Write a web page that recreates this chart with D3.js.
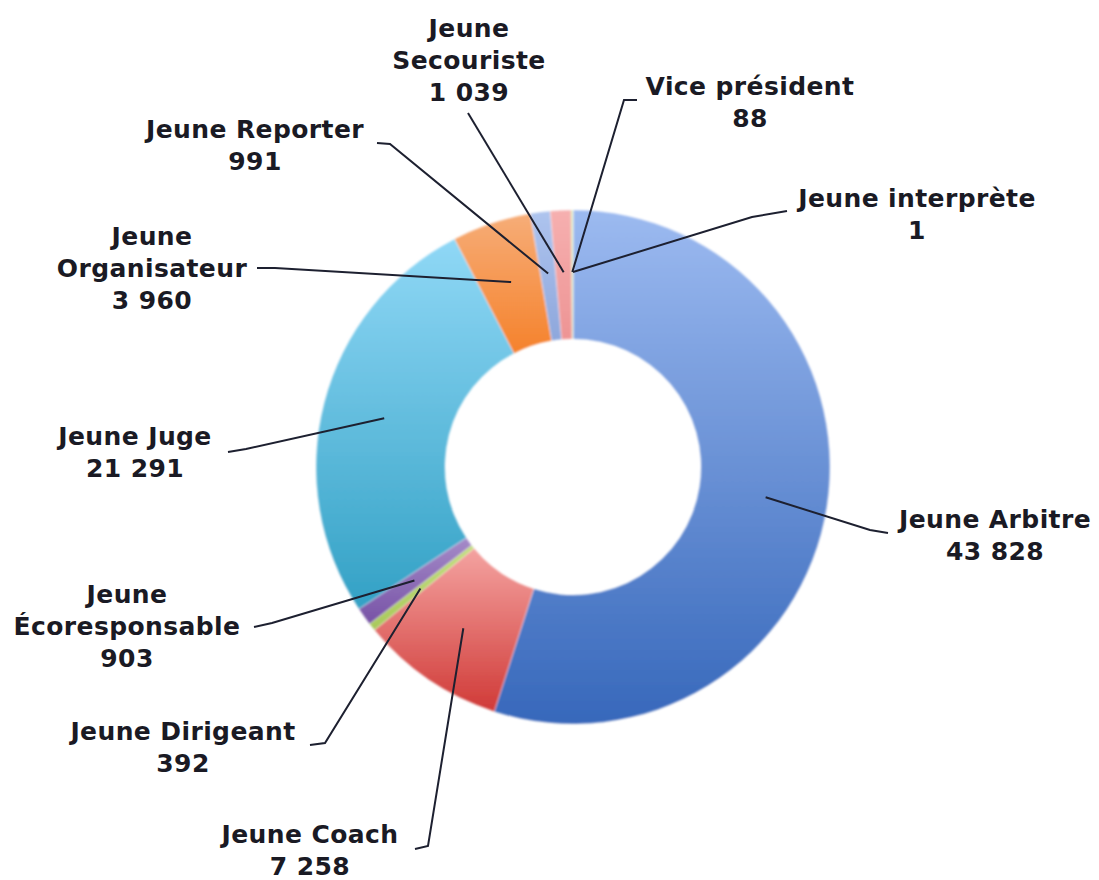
<!DOCTYPE html>
<html>
<head>
<meta charset="utf-8">
<script src="https://cdn.jsdelivr.net/npm/d3@7.9.0/dist/d3.min.js"></script>
<style>
  html, body { margin: 0; padding: 0; background: #fff; }
  svg { display: block; }
  .lbl { font-family: "DejaVu Sans", Verdana, sans-serif; font-weight: bold; font-size: 25px; letter-spacing: 0.4px; fill: #1a1a24; }
</style>
</head>
<body>
<svg id="chart" width="1099" height="880"></svg>
<script>
// data, in Excel's order (clockwise from 12 o'clock)
const categories = ["Jeune Arbitre", "Jeune Coach", "Jeune Dirigeant", "Jeune Écoresponsable",
  "Jeune Juge", "Jeune Organisateur", "Jeune Reporter", "Jeune Secouriste",
  "Vice président", "Jeune interprète"];
const values = [43828, 7258, 392, 903, 21291, 3960, 991, 1039, 88, 1];
const valueLabels = ["43 828", "7 258", "392", "903", "21 291", "3 960", "991", "1 039", "88", "1"];
// how the labels break into lines
const labelLines = [["Jeune Arbitre"], ["Jeune Coach"], ["Jeune Dirigeant"], ["Jeune", "Écoresponsable"],
  ["Jeune Juge"], ["Jeune", "Organisateur"], ["Jeune Reporter"], ["Jeune", "Secouriste"],
  ["Vice président"], ["Jeune interprète"]];

// gradient colours (top, bottom) per slice
const colorTop = ["#9cbaf0", "#f4a3a1", "#c4de7e", "#a58bc8", "#90d8f6", "#f6ad78", "#aec4ee", "#f6b0b0", "#cfe39a", "#bca9d6"];
const colorBottom = ["#3768bb", "#d03a37", "#a8c95a", "#7752a6", "#33a1c5", "#f5822c", "#8ea7dc", "#ee9494", "#b6d070", "#9d86c0"];

// hand placed label boxes, like the original: centre x, first baseline, leader knee and end
const labelLayout = [
  { x: 995, y: 528, knee: [870, 530], end: [888, 533] },
  { x: 310, y: 843, knee: [428, 846], end: [415, 849] },
  { x: 183, y: 740, knee: [325, 743], end: [310, 745] },
  { x: 127, y: 603, knee: [272, 623], end: [254, 627] },
  { x: 135, y: 445, knee: [246, 449], end: [228, 452] },
  { x: 152, y: 245, knee: [275, 268], end: [257, 268] },
  { x: 255, y: 138, knee: [390, 144], end: [377, 143] },
  { x: 469, y: 37, knee: [468, 113], end: [468, 113] },
  { x: 750, y: 95, knee: [624, 100], end: [637, 100] },
  { x: 917, y: 207, knee: [752, 217], end: [787, 211] }
];

const cx = 573, cy = 467;
const outerR = 257, innerR = 128;
const lineH = 32;

const svg = d3.select("#chart");
const defs = svg.append("defs");

categories.forEach((c, i) => {
  const g = defs.append("linearGradient")
    .attr("id", "grad" + i)
    .attr("x1", 0).attr("y1", 0).attr("x2", 0).attr("y2", 1);
  g.append("stop").attr("offset", "0%").attr("stop-color", colorTop[i]);
  g.append("stop").attr("offset", "100%").attr("stop-color", colorBottom[i]);
});

defs.append("filter").attr("id", "soft")
  .append("feGaussianBlur").attr("stdDeviation", 0.8);

const pie = d3.pie().sort(null).value(d => d);
const arcs = pie(values);
const arc = d3.arc().innerRadius(innerR).outerRadius(outerR);
const midArc = d3.arc().innerRadius(195).outerRadius(195);

const ring = svg.append("g")
  .attr("transform", `translate(${cx},${cy})`)
  .attr("filter", "url(#soft)");

ring.selectAll("path")
  .data(arcs)
  .join("path")
  .attr("d", arc)
  .attr("fill", (d, i) => `url(#grad${i})`)
  .attr("stroke", "#ffffff")
  .attr("stroke-opacity", 0.5)
  .attr("stroke-width", 0.7);

// leader lines
svg.append("g").selectAll("polyline")
  .data(arcs)
  .join("polyline")
  .attr("points", (d, i) => {
    const p = midArc.centroid(d);
    const L = labelLayout[i];
    return [[cx + p[0], cy + p[1]], L.knee, L.end].map(q => q.join(",")).join(" ");
  })
  .attr("fill", "none")
  .attr("stroke", "#1d2030")
  .attr("stroke-width", 2);

// labels
const lbl = svg.append("g");
categories.forEach((c, i) => {
  const L = labelLayout[i];
  const lines = labelLines[i].concat([valueLabels[i]]);
  const t = lbl.append("text").attr("class", "lbl").attr("text-anchor", "middle");
  lines.forEach((s, k) => {
    t.append("tspan").attr("x", L.x).attr("y", L.y + k * lineH).text(s);
  });
});
</script>
</body>
</html>
